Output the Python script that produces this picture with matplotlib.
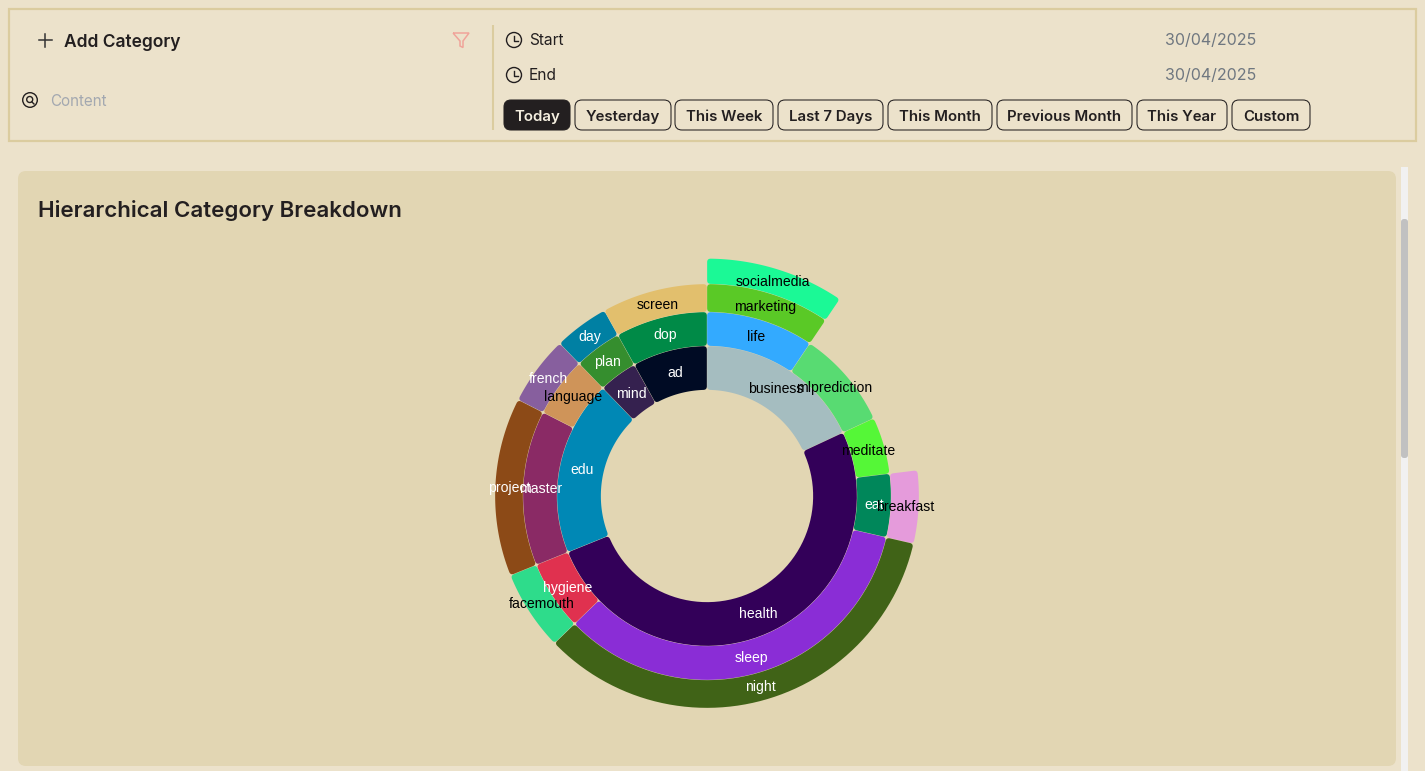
import numpy as np
import matplotlib
matplotlib.use("Agg")
import matplotlib.pyplot as plt
from matplotlib.patches import FancyBboxPatch, Rectangle, Circle, PathPatch
from matplotlib.path import Path

# ---------- data ----------
ring1_names = ["business", "health", "edu", "mind", "ad"]
ring1_values = [65, 183, 68, 15, 29]
ring1_colors = ["#a5bdc0", "#330059", "#0088b5", "#35214f", "#000b24"]
ring1_text = ["black", "white", "white", "white", "white"]

ring2_names = ["life", "mlprediction", "meditate", "eat", "sleep", "hygiene", "master", "language", "plan", "dop"]
ring2_parents = ["business", "business", "health", "health", "health", "health", "edu", "edu", "mind", "ad"]
ring2_values = [34, 31, 18, 20, 123, 22, 49, 19, 15, 29]
ring2_colors = ["#33aaff", "#58db72", "#55f737", "#00875a", "#8a2dd6", "#e0314f", "#8a2a65", "#cf9459", "#358e2e", "#008a47"]
ring2_text = ["black", "black", "black", "white", "white", "white", "white", "black", "white", "white"]

ring3_names = ["marketing", "breakfast", "night", "facemouth", "project", "french", "day", "screen"]
ring3_parents = ["life", "eat", "sleep", "hygiene", "master", "language", "plan", "dop"]
ring3_values = [34, 20, 123, 22, 49, 19, 15, 29]
ring3_colors = ["#5ac926", "#e59bdb", "#406317", "#2edc8b", "#8c4a17", "#875f9e", "#0080a3", "#e2bf6d"]
ring3_text = ["black", "black", "white", "black", "white", "white", "white", "black"]

ring4_names = ["socialmedia"]
ring4_parents = ["marketing"]
ring4_values = [34]
ring4_colors = ["#1bf996"]
ring4_text = ["black"]

date_labels = ["Start", "End"]
date_values = ["30/04/2025", "30/04/2025"]
range_buttons = ["Today", "Yesterday", "This Week", "Last 7 Days", "This Month",
                 "Previous Month", "This Year", "Custom"]

# ---------- layout / style ----------
W, H = 1425, 771
RADII = [106, 150, 184, 212, 237.5]
CX, CY = 707, 496
BG, PANEL, BORDER = "#ece2cb", "#e2d6b3", "#dbcc9f"
DARK = "#231f20"
UI = ["Inter", "DejaVu Sans"]
button_spans = [(504, 570), (575, 671), (675, 773), (778, 883), (888, 992), (997, 1132), (1137, 1227), (1232, 1310)]
PX = 0.72  # font px -> pt at dpi 100

fig = plt.figure(figsize=(W / 100, H / 100), dpi=100, facecolor=BG)
ui = fig.add_axes([0, 0, 1, 1])
ui.set_xlim(0, W)
ui.set_ylim(H, 0)
ui.axis("off")


def box(x0, y0, x1, y1, r=0, fc="none", ec="none", lw=0.0, z=1):
    ui.add_patch(FancyBboxPatch((x0 + r, y0 + r), x1 - x0 - 2 * r, y1 - y0 - 2 * r,
                                boxstyle=f"round,pad={r},rounding_size={r}" if r else "square,pad=0",
                                fc=fc, ec=ec, lw=lw, zorder=z))


# header panel
ui.add_patch(Rectangle((9, 9), 1407.5, 132, fc=BG, ec=BORDER, lw=1.6, zorder=1))
ui.plot([493, 493], [25, 130], color=BORDER, lw=1.5, zorder=2, solid_capstyle="butt")
ui.plot([39, 52], [40, 40], color="#333333", lw=1.1, zorder=2)
ui.plot([45.5, 45.5], [33.5, 46.5], color="#333333", lw=1.1, zorder=2)
ui.text(64, 46.6, "Add Category", family=UI, weight=600, fontsize=17.4 * PX, color=DARK, va="baseline")
ui.add_patch(PathPatch(Path([(453, 33), (469, 33), (463, 41), (463, 47.5), (460, 46), (460, 41), (453, 33)]),
                       fc="none", ec="#f0a49a", lw=1.1, zorder=2))
ui.add_patch(Circle((30, 100), 7.3, fc="none", ec=DARK, lw=1.0, zorder=2))
ui.add_patch(Circle((29.7, 99.5), 3, fc="none", ec=DARK, lw=1.0, zorder=2))
ui.plot([32, 34], [102, 104], color=DARK, lw=1.0, zorder=2)
ui.text(50, 106, "Content", family=UI, fontsize=15.2 * PX, color="#a3a8b0", va="baseline")

for label, value, y in zip(date_labels, date_values, [40, 75]):
    ui.add_patch(Circle((514, y), 7.5, fc="none", ec=DARK, lw=1.0, zorder=2))
    ui.plot([514, 514, 518], [y - 4.5, y + 0.5, y + 0.5], color=DARK, lw=1.0, zorder=2)
    ui.text(529, y + 5, label, family=UI, fontsize=15.5 * PX, color=DARK, va="baseline")
    ui.text(1165, y + 5, value, family=UI, fontsize=16 * PX, color="#6f7780", va="baseline")

for i, (name, (x0, x1)) in enumerate(zip(range_buttons, button_spans)):
    active = i == 0
    box(x0, 100, x1, 130, r=7, fc=DARK if active else BG, ec=DARK, lw=0.75, z=2)
    ui.text((x0 + x1) / 2, 121, name, family=UI, weight=600, fontsize=15 * PX,
            color="#f5efe0" if active else DARK, ha="center", va="baseline", zorder=3)

# content panel + scrollbar
box(18, 171, 1396, 766, r=8, fc=PANEL, z=1)
ui.add_patch(Rectangle((1401, 167), 7, 604, fc="#f1f1f1", ec="none", zorder=1))
box(1401, 219, 1408, 458, r=3, fc="#c1c1c1", z=2)
ui.text(38, 217, "Hierarchical Category Breakdown", family=UI, weight=600, fontsize=22.35 * PX,
        color=DARK, va="baseline")

# sunburst axes: one data unit = one pixel
SPAN = 250
ax = fig.add_axes([(CX - SPAN) / W, 1 - (CY + SPAN) / H, 2 * SPAN / W, 2 * SPAN / H])
ax.set_xlim(-SPAN, SPAN)
ax.set_ylim(-SPAN, SPAN)
ax.axis("off")


def polar(r, deg):
    a = np.radians(deg)
    return r * np.sin(a), r * np.cos(a)


def sector_path(r0, r1, a0, a1, corner=3.5, pad=0.15):
    """Annular sector with rounded corners, clockwise from 12 o'clock."""
    r0 += pad
    r1 -= pad
    a0_o = a0 + np.degrees(pad / r1)
    a1_o = a1 - np.degrees(pad / r1)
    a0_i = a0 + np.degrees(pad / r0)
    a1_i = a1 - np.degrees(pad / r0)
    d_o = np.degrees(corner / r1)
    d_i = np.degrees(corner / r0)
    verts, codes = [], []

    def add(p, c):
        verts.append(p)
        codes.append(c)

    add(polar(r1, a0_o + d_o), Path.MOVETO)
    for t in np.linspace(a0_o + d_o, a1_o - d_o, 60)[1:]:
        add(polar(r1, t), Path.LINETO)
    add(polar(r1, a1_o), Path.CURVE3)
    add(polar(r1 - corner, a1_o), Path.CURVE3)
    add(polar(r0 + corner, a1_i), Path.LINETO)
    add(polar(r0, a1_i), Path.CURVE3)
    add(polar(r0, a1_i - d_i), Path.CURVE3)
    for t in np.linspace(a1_i - d_i, a0_i + d_i, 60)[1:]:
        add(polar(r0, t), Path.LINETO)
    add(polar(r0, a0_i), Path.CURVE3)
    add(polar(r0 + corner, a0_i), Path.CURVE3)
    add(polar(r1 - corner, a0_o), Path.LINETO)
    add(polar(r1, a0_o), Path.CURVE3)
    add(polar(r1, a0_o + d_o), Path.CURVE3)
    return Path(verts, codes)


total = sum(ring1_values)
starts = {}


def draw_ring(depth, names, values, colors, text_colors, parents=None):
    cursor = {}
    position = 0.0
    for i, (n, v, c, tc) in enumerate(zip(names, values, colors, text_colors)):
        if parents is None:
            s = position
            position += v
        else:
            p = parents[i]
            s = cursor.get(p, starts[p])
            cursor[p] = s + v
        starts[n] = s
        a0 = s / total * 360
        a1 = (s + v) / total * 360
        r0, r1 = RADII[depth], RADII[depth + 1]
        ax.add_patch(PathPatch(sector_path(r0, r1, a0, a1), fc=c, ec="none", lw=0, zorder=2))
        x, y = polar((r0 + r1) / 2, (a0 + a1) / 2)
        ax.text(x + 0.3, y - 4.6, n, color=tc, family=["Liberation Sans", "DejaVu Sans"], fontsize=14 * PX,
                ha="center", va="baseline", zorder=5 + depth, clip_on=False)


draw_ring(0, ring1_names, ring1_values, ring1_colors, ring1_text)
draw_ring(1, ring2_names, ring2_values, ring2_colors, ring2_text, ring2_parents)
draw_ring(2, ring3_names, ring3_values, ring3_colors, ring3_text, ring3_parents)
draw_ring(3, ring4_names, ring4_values, ring4_colors, ring4_text, ring4_parents)

fig.savefig("out.png", dpi=100, facecolor=BG)
